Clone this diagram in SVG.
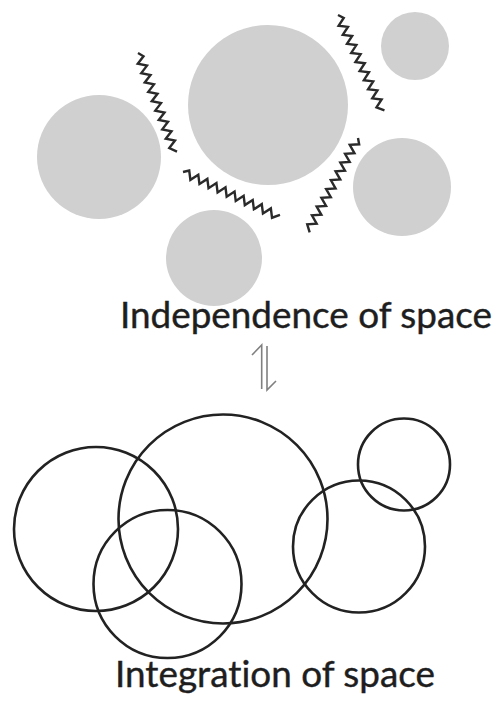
<svg xmlns="http://www.w3.org/2000/svg" xmlns:xlink="http://www.w3.org/1999/xlink" width="497" height="703" viewBox="0 0 497 703">
<style>
.blob{fill:#d0d0d0;stroke:none}
.ring{fill:none;stroke:#222;stroke-width:2.6}
.zz{fill:none;stroke:#2a2a2a;stroke-width:2.4;stroke-linejoin:miter}
.lbl{font-family:Lato,"Open Sans","Liberation Sans",sans-serif;font-size:36px;fill:#1e1e1e;font-variant-ligatures:none;stroke:#1e1e1e;stroke-width:0.4}
.harp{fill:none;stroke:#808080;stroke-width:1.6}
</style>
<defs>
<path id="zig" d="M0,0 L5,-4 L10,4 L15,-4 L20,4 L25,-4 L30,4 L35,-4 L40,4 L45,-4 L50,4 L55,-4 L60,4 L65,-4 L70,4 L75,-4 L80,4 L85,-4 L90,4 L95,-4 L100,4 L106,-2"/>
</defs>
<rect width="497" height="703" fill="#fff"/>
<g id="independent">
<g id="c-big"><circle class="blob" cx="268" cy="105" r="80"/></g>
<g id="c-left"><circle class="blob" cx="99" cy="157" r="62"/></g>
<g id="c-topright"><circle class="blob" cx="415" cy="46" r="34"/></g>
<g id="c-right"><circle class="blob" cx="402" cy="187" r="49"/></g>
<g id="c-bottom"><circle class="blob" cx="214" cy="258" r="48"/></g>
</g>
<g id="springs">
<use xlink:href="#zig" class="zz" transform="translate(138,53) rotate(69.5)"/>
<use xlink:href="#zig" class="zz" transform="translate(338,15) rotate(65.1)"/>
<use xlink:href="#zig" class="zz" transform="translate(183,172) rotate(24.9)"/>
<use xlink:href="#zig" class="zz" transform="translate(358,138) rotate(118.2)"/>
</g>
<g id="label-top"><text class="lbl" x="120" y="328" textLength="372" lengthAdjust="spacingAndGlyphs">Independence of space</text></g>
<g id="equilibrium">
<path class="harp" d="M252,355 L261.7,345 L261.7,389"/>
<path class="harp" d="M267,346 L267,390 L276,381"/>
</g>
<g id="integrated">
<g id="r-left"><circle class="ring" cx="96" cy="529" r="82"/></g>
<g id="r-big"><circle class="ring" cx="223" cy="519" r="104.5"/></g>
<g id="r-bottom"><circle class="ring" cx="167.5" cy="584" r="74"/></g>
<g id="r-right"><circle class="ring" cx="359" cy="546.5" r="66"/></g>
<g id="r-small"><circle class="ring" cx="404" cy="464.5" r="46"/></g>
</g>
<g id="label-bottom"><text class="lbl" x="115" y="687" textLength="320" lengthAdjust="spacingAndGlyphs">Integration of space</text></g>
</svg>
